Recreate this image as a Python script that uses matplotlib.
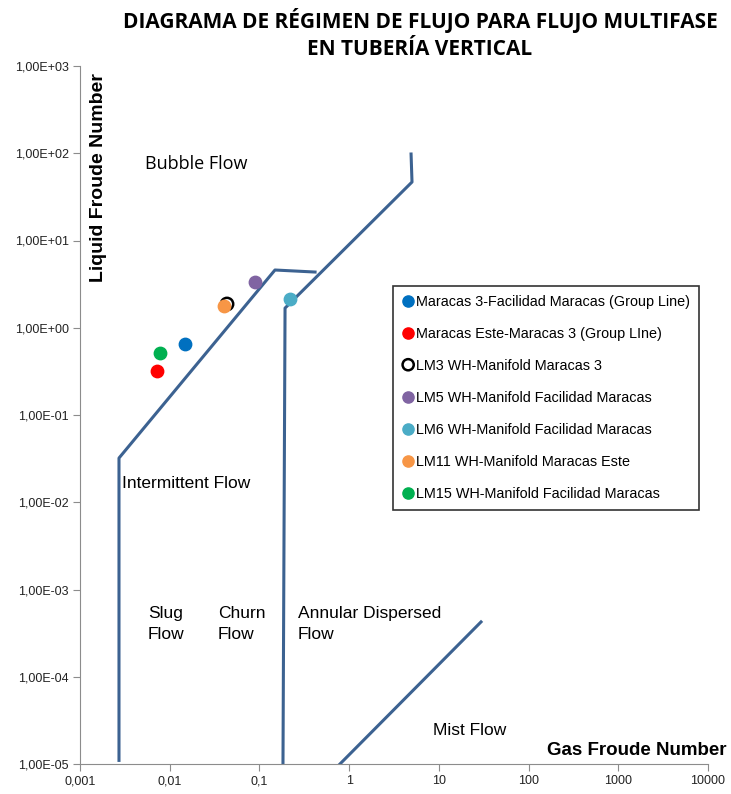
import matplotlib
matplotlib.use('Agg')
import matplotlib.pyplot as plt
from matplotlib.ticker import FixedLocator, FixedFormatter, NullLocator

# flow regime boundaries (gas Froude, liquid Froude)
bubble_x = [0.00272, 0.00272, 0.149, 0.417]
bubble_y = [1.1e-5, 0.0321, 4.59, 4.35]
annular_x = [0.183, 0.193, 5.02, 4.90]
annular_y = [1.0e-5, 1.68, 46.8, 98.0]
mist_x = [0.79, 29.5]
mist_y = [1.0e-5, 4.25e-4]

# operating points
labels = ['Maracas 3-Facilidad Maracas (Group Line)',
          'Maracas Este-Maracas 3 (Group LIne)',
          'LM3 WH-Manifold Maracas 3',
          'LM5 WH-Manifold Facilidad Maracas',
          'LM6 WH-Manifold Facilidad Maracas',
          'LM11 WH-Manifold Maracas Este',
          'LM15 WH-Manifold Facilidad Maracas']
pt_x = [0.0148, 0.00721, 0.0435, 0.0893, 0.219, 0.0400, 0.0078]
pt_y = [0.652, 0.319, 1.87, 3.34, 2.14, 1.76, 0.514]
pt_colors = ['#0070C0', '#FF0000', 'none', '#8064A2', '#4BACC6', '#F79646', '#00B050']

xticks = [0.001, 0.01, 0.1, 1, 10, 100, 1000, 10000]
xticklabels = ['0,001', '0,01', '0,1', '1', '10', '100', '1000', '10000']
yticks = [1e-5, 1e-4, 1e-3, 1e-2, 1e-1, 1, 10, 100, 1000]
yticklabels = ['1,00E-05', '1,00E-04', '1,00E-03', '1,00E-02', '1,00E-01',
               '1,00E+00', '1,00E+01', '1,00E+02', '1,00E+03']

plt.rcParams['font.family'] = ['Liberation Sans', 'DejaVu Sans']

fig = plt.figure(figsize=(7.31, 7.94), dpi=100)
ax = fig.add_axes([80/731, 30/794, 628/731, 698/794])
ax.set_xscale('log')
ax.set_yscale('log')
ax.set_xlim(0.001, 10000)
ax.set_ylim(1e-5, 1000)

line_col = '#3C6291'
ax.plot(bubble_x, bubble_y, color=line_col, lw=2.2)
ax.plot(annular_x, annular_y, color=line_col, lw=2.2)
ax.plot(mist_x, mist_y, color=line_col, lw=2.2)

for x, y, c, lab in zip(pt_x, pt_y, pt_colors, labels):
    if c == 'none':
        # open marker sits underneath the later orange one
        ax.scatter([x], [y], s=80, facecolors='none', edgecolors='black',
                   linewidths=1.8, label=lab, zorder=2)
    else:
        ax.scatter([x], [y], s=80, color=c, label=lab, zorder=3)

leg = ax.legend(loc='upper left', bbox_to_anchor=(313/628, 478/698),
                borderaxespad=0, frameon=True, fancybox=False, edgecolor='black',
                handletextpad=0.1, handlelength=0.9, labelspacing=1.25,
                borderpad=0.6, prop={'size': 10.4},
                markerscale=0.9, scatteryoffsets=[0.5])
leg.get_frame().set_linewidth(1.2)

# axes styling
for s in ['top', 'right']:
    ax.spines[s].set_visible(False)
for s in ['left', 'bottom']:
    ax.spines[s].set_color('#8c8c8c')
ax.xaxis.set_major_locator(FixedLocator(xticks))
ax.xaxis.set_major_formatter(FixedFormatter(xticklabels))
ax.yaxis.set_major_locator(FixedLocator(yticks))
ax.yaxis.set_major_formatter(FixedFormatter(yticklabels))
ax.xaxis.set_minor_locator(NullLocator())
ax.yaxis.set_minor_locator(NullLocator())
ax.tick_params(length=5, color='#8c8c8c', labelsize=9, labelcolor='#222222', pad=3)

# region labels
txt = dict(fontsize=12.5, va='center', ha='left')
ax.text(0.0053, 75, 'Bubble Flow', fontsize=13, family=['Open Sans'], va='center')
ax.text(0.00294, 0.0166, 'Intermittent Flow', **txt)
ax.text(0.00573, 4.0e-4, 'Slug\nFlow', linespacing=1.5, **txt)
ax.text(0.0345, 4.0e-4, 'Churn\nFlow', linespacing=1.5, **txt)
ax.text(0.269, 4.0e-4, 'Annular Dispersed\nFlow', linespacing=1.5, **txt)
ax.text(8.6, 2.39e-5, 'Mist Flow', **txt)

ax.text(0.03, 0.84, 'Liquid Froude Number', transform=ax.transAxes, rotation=90,
        ha='center', va='center', fontsize=14, fontweight='bold')
ax.text(1.03, 0.02, 'Gas Froude Number', transform=ax.transAxes,
        ha='right', va='center', fontsize=13.5, fontweight='bold')

fig.text(420/731, 1 - 34/794,
         'DIAGRAMA DE RÉGIMEN DE FLUJO PARA FLUJO MULTIFASE\nEN TUBERÍA VERTICAL',
         ha='center', va='center', fontsize=15, fontweight='bold',
         family=['Open Sans'], linespacing=1.4)

fig.savefig('out.png', dpi=100)
